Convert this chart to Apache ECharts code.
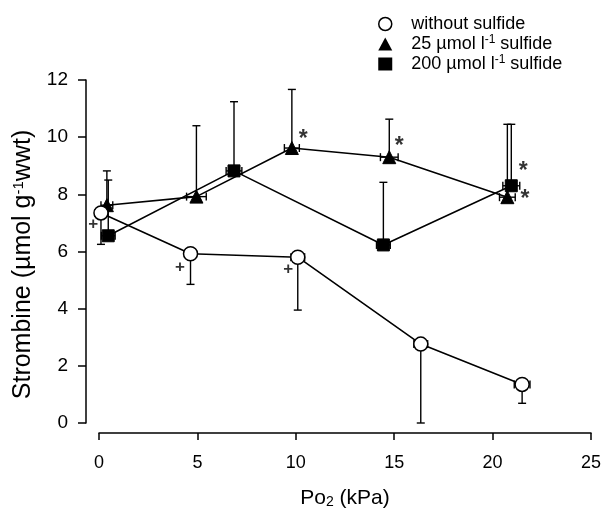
<!DOCTYPE html>
<html><head><meta charset="utf-8">
<script src="https://cdn.jsdelivr.net/npm/echarts@6/dist/echarts.min.js"></script>
<style>html,body{margin:0;padding:0;background:#fff}#c{width:607px;height:508px}</style>
</head><body><div id="c"></div>
<script>
// ---- data ----
const seriesNames = ['without sulfide', '25 µmol l-1 sulfide', '200 µmol l-1 sulfide'];

const circleX    = [0.1, 4.65, 10.1, 16.35, 21.5];
const circleY    = [7.35, 5.92, 5.8, 2.76, 1.35];
const circleXErr = [0.3, 0.3, 0.35, 0.35, 0.4];
const circleYLim = [6.25, 4.85, 3.95, 0.0, 0.69];

const triX    = [0.4, 4.95, 9.8, 14.75, 20.75];
const triY    = [7.62, 7.92, 9.62, 9.3, 7.9];
const triXErr = [0.3, 0.5, 0.38, 0.45, 0.4];
const triYLim = [8.82, 10.4, 11.67, 10.63, 10.45];

const sqX    = [0.47, 6.86, 14.45, 20.95];
const sqY    = [6.55, 8.82, 6.23, 8.3];
const sqXErr = [0.35, 0.4, 0.35, 0.43];
const sqYLim = [8.5, 11.24, 8.42, 10.45];

const plusX = [-0.3, 4.12, 9.62];
const plusY = [6.95, 5.46, 5.39];
const starX = [10.38, 15.26, 21.56, 21.65];
const starY = [9.9, 9.66, 8.78, 7.8];

const xMin = 0, xMax = 25, xStep = 5;
const yMin = 0, yMax = 12, yStep = 2;

// ---- helpers ----
const zip = (a, b) => a.map((v, i) => [v, b[i]]);
const errData = (x, y, xe, yl) => x.map((v, i) => [v, y[i], xe[i], yl[i]]);
const FONT = 'Liberation Sans, Arial, Helvetica, sans-serif';

function errRender(params, api) {
  const x = api.value(0), y = api.value(1), xe = api.value(2), yl = api.value(3);
  const c = api.coord([x, y]), cl = api.coord([x, yl]);
  const xl = api.coord([x - xe, y]), xr = api.coord([x + xe, y]);
  const cap = 4, st = { stroke: '#000', lineWidth: 1.4, fill: null };
  return { type: 'group', children: [
    { type: 'line', shape: { x1: c[0], y1: c[1], x2: cl[0], y2: cl[1] }, style: st },
    { type: 'line', shape: { x1: cl[0] - cap, y1: cl[1], x2: cl[0] + cap, y2: cl[1] }, style: st },
    { type: 'line', shape: { x1: xl[0], y1: xl[1], x2: xr[0], y2: xr[1] }, style: st },
    { type: 'line', shape: { x1: xl[0], y1: xl[1] - cap, x2: xl[0], y2: xl[1] + cap }, style: st },
    { type: 'line', shape: { x1: xr[0], y1: xr[1] - cap, x2: xr[0], y2: xr[1] + cap }, style: st }
  ]};
}

function errSeries(data) {
  return { type: 'custom', renderItem: errRender, data: data, encode: { x: 0, y: 1 },
           clip: false, z: 1, silent: true };
}

function textSeries(xs, ys, txt, size) {
  return { type: 'scatter', data: zip(xs, ys), symbolSize: 0, clip: false, z: 5, silent: true,
    label: { show: true, position: 'inside', formatter: txt, color: '#000',
             fontSize: size, fontFamily: FONT, fontWeight: 'bold' } };
}

const legendRich = {
  gap: { width: 14 },
  a: { fontSize: 18, fontFamily: FONT, color: '#000' },
  sup: { fontSize: 12, fontFamily: FONT, color: '#000', verticalAlign: 'top', padding: [0, 0, 8, 0] }
};

const chart = echarts.init(document.getElementById('c'), null, { renderer: 'canvas' });
chart.setOption({
  backgroundColor: '#fff',
  animation: false,
  grid: { left: 99, right: 16, top: 80, bottom: 85, containLabel: false, outerBoundsMode: 'none' },
  legend: {
    orient: 'vertical', left: 373, top: 10, itemGap: 1, itemWidth: 14, itemHeight: 13,
    data: [
      { name: seriesNames[0], icon: 'circle', itemStyle: { color: '#fff', borderColor: '#000', borderWidth: 1.5 } },
      { name: seriesNames[1], icon: 'triangle', itemStyle: { color: '#000' } },
      { name: seriesNames[2], icon: 'rect', itemStyle: { color: '#000' } }
    ],
    formatter: function (name) {
      const m = name.match(/^(.*l)-1( sulfide)$/);
      if (m) return '{gap|}{a|' + m[1] + '}{sup|-1}{a|' + m[2] + '}';
      return '{gap|}{a|' + name + '}';
    },
    textStyle: { rich: legendRich }
  },
  xAxis: {
    type: 'value', min: xMin, max: xMax, interval: xStep, offset: 10,
    name: '{a|Po}{sub|2}{a| (kPa)}', nameLocation: 'middle', nameGap: 54,
    nameTextStyle: { rich: {
      a: { fontSize: 21, fontFamily: FONT, color: '#000' },
      sub: { fontSize: 14, fontFamily: FONT, color: '#000', verticalAlign: 'bottom', padding: [8, 0, 0, 0] } } },
    axisLine: { show: true, onZero: false, lineStyle: { color: '#000', width: 1.5 } },
    axisTick: { show: true, inside: false, length: 7, lineStyle: { color: '#000', width: 1.5 } },
    axisLabel: { fontSize: 18, fontFamily: FONT, color: '#000', margin: 21 },
    splitLine: { show: false }
  },
  yAxis: {
    type: 'value', min: yMin, max: yMax, interval: yStep, offset: 13,
    name: '{a|Strombine (µmol g}{sup|-1}{a|wwt)}', nameLocation: 'middle', nameGap: 50, nameRotate: 90,
    nameTextStyle: { padding: [0, 26, 0, 0], rich: {
      a: { fontSize: 25, fontFamily: FONT, color: '#000' },
      sup: { fontSize: 15, fontFamily: FONT, color: '#000', verticalAlign: 'top', padding: [0, 0, 10, 0] } } },
    axisLine: { show: true, onZero: false, lineStyle: { color: '#000', width: 1.5 } },
    axisTick: { show: true, inside: false, length: 8, lineStyle: { color: '#000', width: 1.5 } },
    axisLabel: { fontSize: 19, fontFamily: FONT, color: '#000', margin: 18 },
    splitLine: { show: false }
  },
  series: [
    errSeries(errData(circleX, circleY, circleXErr, circleYLim)),
    errSeries(errData(triX, triY, triXErr, triYLim)),
    errSeries(errData(sqX, sqY, sqXErr, sqYLim)),
    { name: seriesNames[2], type: 'line', data: zip(sqX, sqY), symbol: 'rect', symbolSize: 12, z: 3,
      lineStyle: { color: '#000', width: 1.6 }, itemStyle: { color: '#000', borderColor: '#000' } },
    { name: seriesNames[1], type: 'line', data: zip(triX, triY), symbol: 'triangle', symbolSize: 13, z: 3,
      lineStyle: { color: '#000', width: 1.6 }, itemStyle: { color: '#000', borderColor: '#000' } },
    { name: seriesNames[0], type: 'line', data: zip(circleX, circleY), symbol: 'circle', symbolSize: 14, z: 4,
      lineStyle: { color: '#000', width: 1.6 }, itemStyle: { color: '#fff', borderColor: '#000', borderWidth: 1.5 } },
    textSeries(plusX, plusY, '+', 17),
    textSeries(starX, starY, '*', 23)
  ]
});
</script></body></html>
